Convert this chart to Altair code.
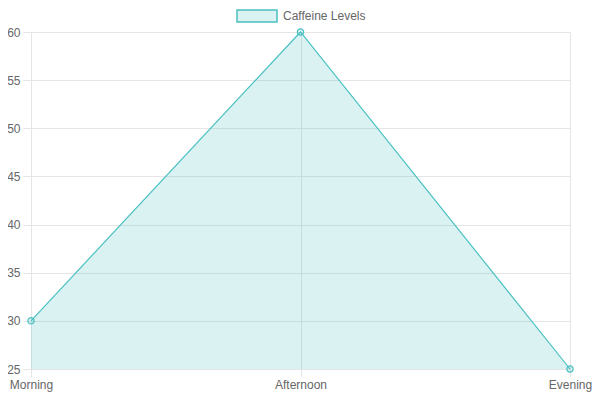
import altair as alt
import pandas as pd

times = ["Morning", "Afternoon", "Evening"]
levels = [30, 60, 25]
series_name = "Caffeine Levels"
y_ticks = [25, 30, 35, 40, 45, 50, 55, 60]

df = pd.DataFrame({"time": times, "level": levels, "series": [series_name] * len(times)})

LINE = "#4bc0c0"
FILL = "rgba(75,192,192,0.2)"
GRID = "#e5e5e5"
FONT = "Liberation Sans"

x = alt.X("time:N", sort=times, title=None,
          scale=alt.Scale(type="point", padding=0),
          axis=alt.Axis(labelAngle=0, grid=True, gridColor=GRID, tickColor=GRID,
                        domainColor=GRID, tickSize=8, labelPadding=2,
                        labelColor="#666", labelFont=FONT, labelFontSize=12))
y = alt.Y("level:Q", title=None,
          scale=alt.Scale(domain=[25, 60], zero=False, nice=False),
          axis=alt.Axis(values=y_ticks, grid=True, gridColor=GRID, tickColor=GRID,
                        domainColor=GRID, tickSize=8, labelPadding=3,
                        labelColor="#666", labelFont=FONT, labelFontSize=12))

base = alt.Chart(df).encode(x=x, y=y)

area = base.mark_area(clip=True, fillOpacity=1).encode(
    color=alt.Color("series:N", scale=alt.Scale(range=[FILL]),
                    legend=alt.Legend(title=None, orient="none", legendX=205, legendY=-37,
                                      symbolType="M-1,-0.3H1V0.3H-1Z", symbolSize=1600,
                                      symbolStrokeColor=LINE,
                                      symbolStrokeWidth=1.5, symbolOpacity=1,
                                      labelOffset=5, labelColor="#666", labelFont=FONT,
                                      labelFontSize=12))
)
line = base.mark_line(color=LINE, strokeWidth=1.2)
points = base.mark_point(shape="circle", size=40, filled=False, stroke=LINE,
                         fill=FILL, strokeWidth=1.2, opacity=1, fillOpacity=1)

chart = alt.layer(area, line, points).properties(
    width=539, height=337,
    autosize=alt.AutoSizeParams(type="none"),
    padding={"left": 23, "top": 24, "right": 22, "bottom": 23},
).configure_view(stroke=None)

chart.save("out.html", embed_options={"renderer": "svg", "actions": False})
